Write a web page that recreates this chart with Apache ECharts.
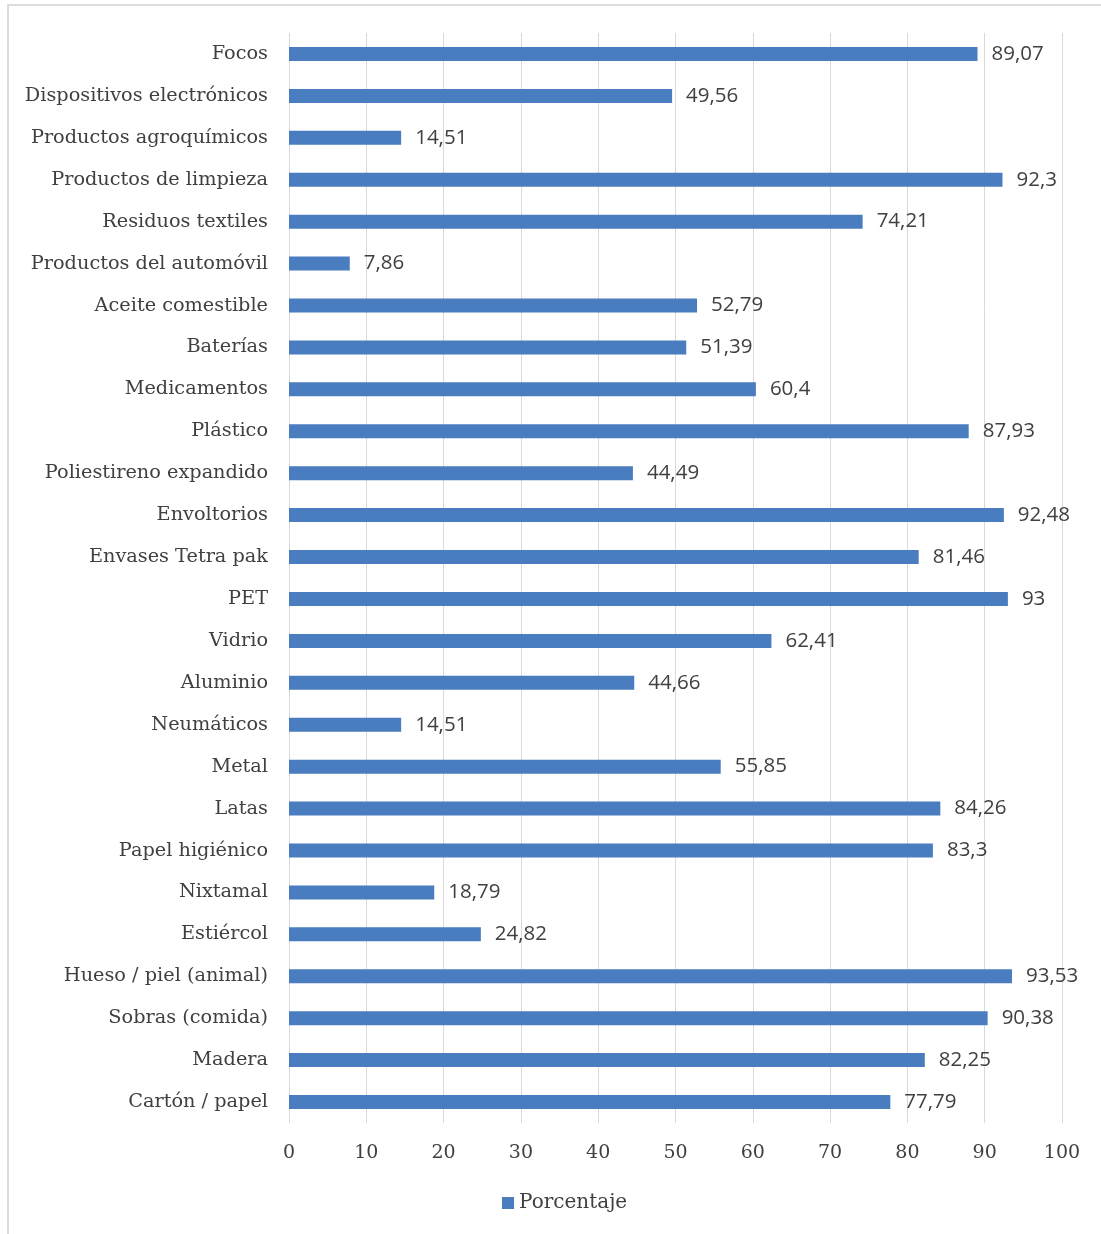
<!DOCTYPE html>
<html><head><meta charset="utf-8">
<script src="https://cdn.jsdelivr.net/npm/echarts@6/dist/echarts.min.js"></script>
<style>html,body{margin:0;padding:0;background:#fff}#c{width:1101px;height:1234px}</style>
</head><body><div id="c"></div>
<script>
const categories = ["Focos","Dispositivos electrónicos","Productos agroquímicos","Productos de limpieza","Residuos textiles","Productos del automóvil","Aceite comestible","Baterías","Medicamentos","Plástico","Poliestireno expandido","Envoltorios","Envases Tetra pak","PET","Vidrio","Aluminio","Neumáticos","Metal","Latas","Papel higiénico","Nixtamal","Estiércol","Hueso / piel (animal)","Sobras (comida)","Madera","Cartón / papel"];
const porcentaje = [89.07,49.56,14.51,92.3,74.21,7.86,52.79,51.39,60.4,87.93,44.49,92.48,81.46,93,62.41,44.66,14.51,55.85,84.26,83.3,18.79,24.82,93.53,90.38,82.25,77.79];
const seriesName = "Porcentaje";

const serif = "'DejaVu Serif', serif";
const sans = "'Open Sans', 'DejaVu Sans', sans-serif";
const chart = echarts.init(document.getElementById('c'));
chart.setOption({
  animation: false,
  backgroundColor: '#fff',
  graphic: [{type:'rect', shape:{x:8,y:5,width:1110,height:1250}, style:{fill:'none', stroke:'#dcdcdc', lineWidth:2}, silent:true}],
  grid: {left: 289, right: 39, top: 33, bottom: 111},
  legend: {bottom: 16, left: 497, itemWidth: 12, itemHeight: 12, icon: 'rect', itemGap: 6,
    textStyle: {fontFamily: serif, fontSize: 20, color: '#404040'}},
  xAxis: {type: 'value', min: 0, max: 100, interval: 10,
    axisLine: {show: false}, axisTick: {show: false},
    splitLine: {lineStyle: {color: '#d9d9d9', width: 1}},
    axisLabel: {fontFamily: serif, fontSize: 19, color: '#404040', margin: 21}},
  yAxis: {type: 'category', data: categories, inverse: true,
    axisLine: {show: false}, axisTick: {show: false},
    axisLabel: {fontFamily: serif, fontSize: 19.3, color: '#404040', margin: 21}},
  series: [{name: seriesName, type: 'bar', data: porcentaje, barWidth: 14,
    itemStyle: {color: '#4a7dbf'},
    label: {show: true, position: 'right', distance: 14, fontFamily: sans, fontSize: 20.5, color: '#404040',
      formatter: p => String(p.value).replace('.', ',')}}]
});
</script></body></html>
